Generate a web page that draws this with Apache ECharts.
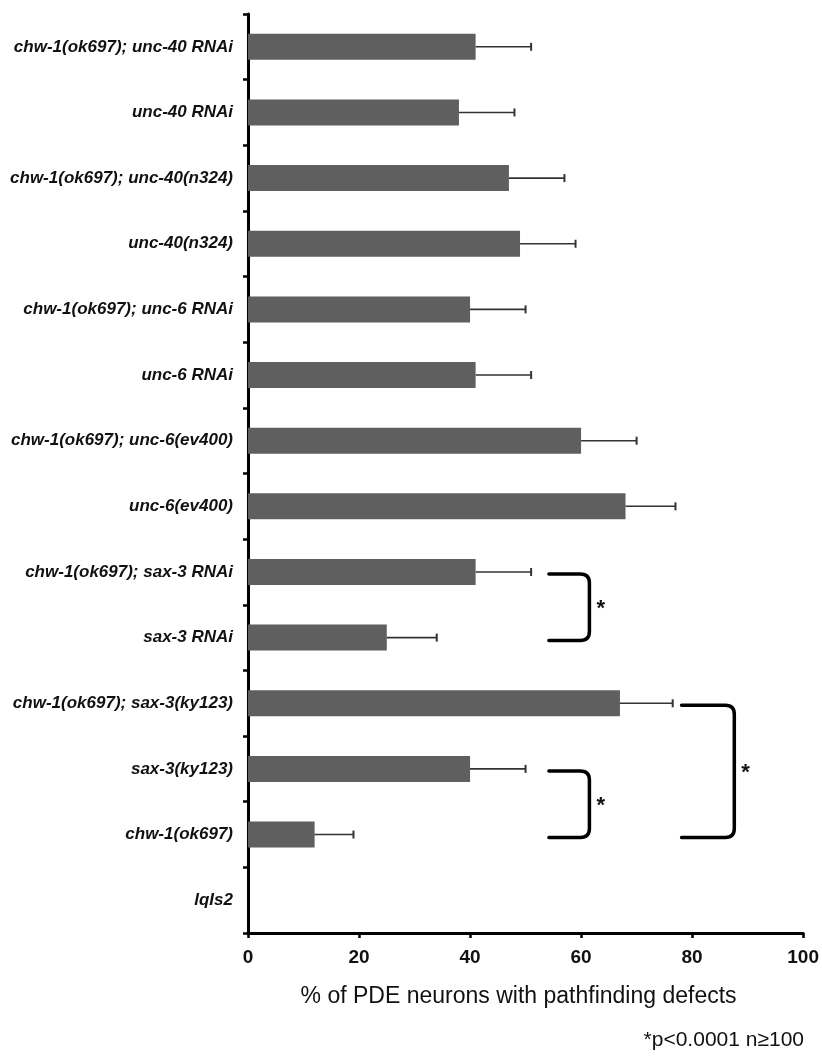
<!DOCTYPE html>
<html>
<head>
<meta charset="utf-8">
<script src="https://cdn.jsdelivr.net/npm/echarts@6/dist/echarts.min.js"></script>
<style>
  html, body { margin: 0; padding: 0; background: #ffffff; }
  #chart { width: 822px; height: 1060px; }
</style>
</head>
<body>
<div id="chart"></div>
<script>
// ---- data ----
const categories = [
  'chw-1(ok697); unc-40 RNAi',
  'unc-40 RNAi',
  'chw-1(ok697); unc-40(n324)',
  'unc-40(n324)',
  'chw-1(ok697); unc-6 RNAi',
  'unc-6 RNAi',
  'chw-1(ok697); unc-6(ev400)',
  'unc-6(ev400)',
  'chw-1(ok697); sax-3 RNAi',
  'sax-3 RNAi',
  'chw-1(ok697); sax-3(ky123)',
  'sax-3(ky123)',
  'chw-1(ok697)',
  'lqIs2'
];
const values = [41, 38, 47, 49, 40, 41, 60, 68, 41, 25, 67, 40, 12, 0];
const errors = [10, 10, 10, 10, 10, 10, 10, 9, 10, 9, 9.5, 10, 7, 0];
const xTicks = [0, 20, 40, 60, 80, 100];
const comparisons = [
  ['chw-1(ok697); sax-3 RNAi', 'sax-3 RNAi'],
  ['sax-3(ky123)', 'chw-1(ok697)'],
  ['chw-1(ok697); sax-3(ky123)', 'chw-1(ok697)']
];
const marks = ['*', '*', '*'];
const xTitle = '% of PDE neurons with pathfinding defects';
const footnote = '*p<0.0001 n\u2265100';

// ---- layout (annotation placement, in axis value units) ----
const bracketSpan = [[54.2, 61.5], [54.2, 61.5], [78.1, 87.6]];

const FONT = '"Liberation Sans", Arial, Helvetica, sans-serif';
const chart = echarts.init(document.getElementById('chart'), null, { renderer: 'canvas' });

const option = {
  animation: false,
  backgroundColor: '#ffffff',
  grid: { left: 248, right: 18, top: 14, bottom: 127, containLabel: false },
  xAxis: {
    type: 'value',
    min: xTicks[0],
    max: xTicks[xTicks.length - 1],
    interval: xTicks[1] - xTicks[0],
    name: xTitle,
    nameLocation: 'middle',
    nameGap: 52,
    nameTextStyle: { fontFamily: FONT, fontSize: 23, color: '#111', padding: [0, 14, 0, 0] },
    axisLine: { show: true, lineStyle: { color: '#000', width: 3 } },
    axisTick: { show: true, length: 5, lineStyle: { color: '#000', width: 2.5 } },
    axisLabel: { fontFamily: FONT, fontSize: 19, fontWeight: 'bold', color: '#111', margin: 15 },
    splitLine: { show: false }
  },
  yAxis: {
    type: 'category',
    data: categories,
    inverse: true,
    axisLine: { show: true, lineStyle: { color: '#000', width: 3 } },
    axisTick: { show: true, length: 5, alignWithLabel: false, lineStyle: { color: '#000', width: 2.5 } },
    axisLabel: { fontFamily: FONT, fontSize: 17, fontWeight: 'bold', fontStyle: 'italic', color: '#111', margin: 15 },
    splitLine: { show: false }
  },
  series: [
    {
      type: 'bar',
      data: values,
      barWidth: 26,
      itemStyle: { color: '#5f5f5f' },
      z: 2
    },
    {
      type: 'custom',
      name: 'errors',
      coordinateSystem: 'cartesian2d',
      data: values.map((v, i) => [v, i, errors[i]]),
      encode: { x: 0, y: 1 },
      z: 3,
      renderItem: function (params, api) {
        const v = api.value(0), i = api.value(1), e = api.value(2);
        if (!e) return null;
        const p0 = api.coord([v, i]);
        const p1 = api.coord([v + e, i]);
        const capH = 4;
        return {
          type: 'group',
          children: [
            { type: 'line', shape: { x1: p0[0], y1: p0[1], x2: p1[0], y2: p1[1] }, style: { stroke: '#333', lineWidth: 1.6 } },
            { type: 'line', shape: { x1: p1[0], y1: p1[1] - capH, x2: p1[0], y2: p1[1] + capH }, style: { stroke: '#333', lineWidth: 2 } }
          ]
        };
      }
    },
    {
      type: 'custom',
      name: 'brackets',
      coordinateSystem: 'cartesian2d',
      data: comparisons.map((c, k) => [bracketSpan[k][0], categories.indexOf(c[0]), bracketSpan[k][1], categories.indexOf(c[1]), k]),
      encode: { x: [0, 2], y: [1, 3] },
      z: 4,
      clip: false,
      renderItem: function (params, api) {
        const k = api.value(4);
        const pTL = api.coord([api.value(0), api.value(1)]);
        const pBR = api.coord([api.value(2), api.value(3)]);
        const xL = pTL[0], xR = pBR[0], yT = pTL[1] + 2, yB = pBR[1] + 3;
        const r = 9;
        const path = 'M' + xL + ' ' + yT +
          ' L' + (xR - r) + ' ' + yT +
          ' Q' + xR + ' ' + yT + ' ' + xR + ' ' + (yT + r) +
          ' L' + xR + ' ' + (yB - r) +
          ' Q' + xR + ' ' + yB + ' ' + (xR - r) + ' ' + yB +
          ' L' + xL + ' ' + yB;
        return {
          type: 'group',
          children: [
            { type: 'path', shape: { pathData: path }, style: { stroke: '#000', lineWidth: 3.5, fill: null, lineCap: 'round' } },
            { type: 'text', style: { text: marks[k], x: xR + 7, y: (yT + yB) / 2 + 2, fill: '#111', font: 'bold 22px ' + FONT, align: 'left', verticalAlign: 'middle' } }
          ]
        };
      }
    }
  ],
  graphic: [
    {
      type: 'text',
      right: 18,
      top: 1030,
      style: { text: footnote, fill: '#111', font: '21px ' + FONT, align: 'right' }
    }
  ]
};
chart.setOption(option);
</script>
</body>
</html>
